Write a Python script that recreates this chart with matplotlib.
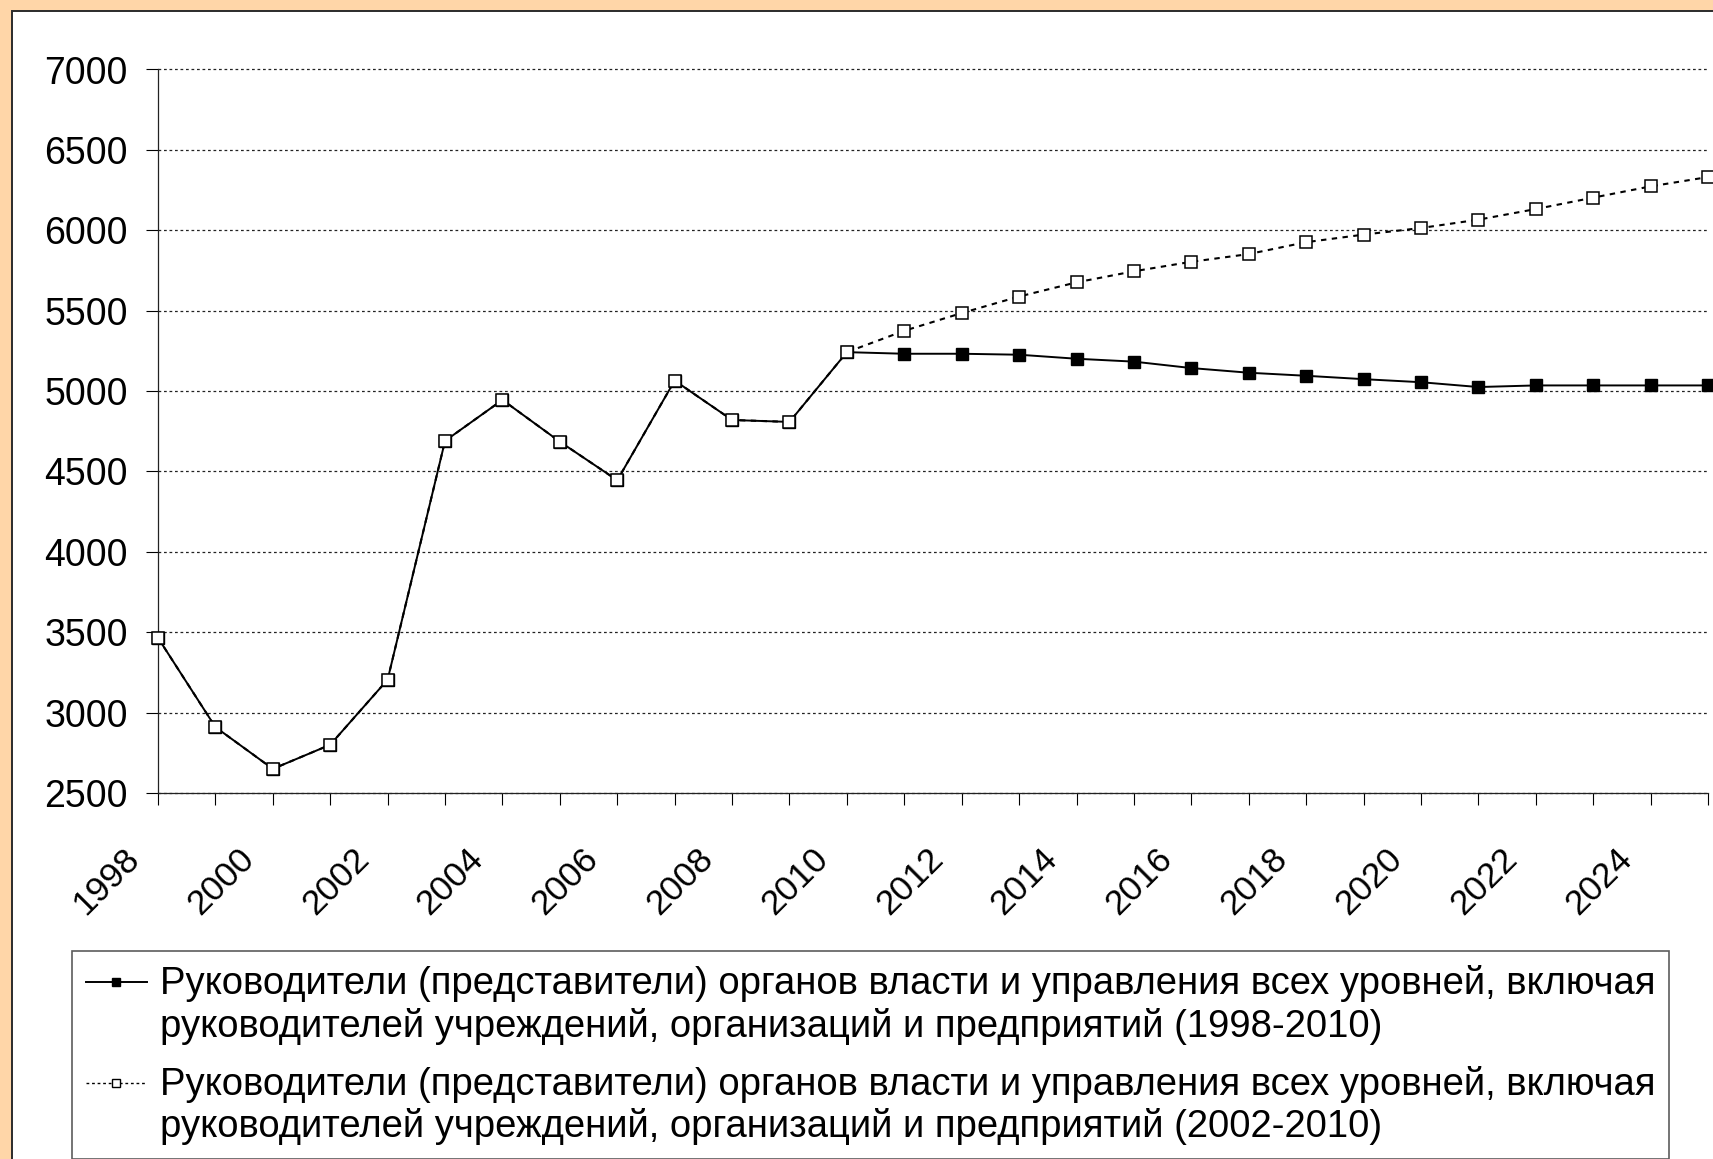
import matplotlib
matplotlib.use('Agg')
import matplotlib.pyplot as plt
import matplotlib.transforms as mtransforms
import numpy as np
from matplotlib.lines import Line2D
from matplotlib.patches import Rectangle
from matplotlib.legend_handler import HandlerLine2D

plt.rcParams['font.family'] = ['Liberation Sans', 'DejaVu Sans']

# data
years = list(range(1998, 2026))
leaders_1998 = [3465, 2910, 2650, 2800, 3205, 4690, 4945, 4685, 4445, 5065,
                4820, 4808, 5242, 5232, 5232, 5226, 5201, 5183, 5143, 5114,
                5095, 5074, 5055, 5025, 5035, 5035, 5035, 5035]
leaders_2002 = [3465, 2910, 2650, 2800, 3205, 4690, 4945, 4685, 4445, 5065,
                4820, 4808, 5242, 5375, 5485, 5588, 5676, 5745, 5804, 5852,
                5926, 5973, 6014, 6066, 6132, 6203, 6273, 6331]
y_ticks = [2500, 3000, 3500, 4000, 4500, 5000, 5500, 6000, 6500, 7000]
label_1998 = ('Руководители (представители) органов власти и управления всех уровней, включая\n'
              'руководителей учреждений, организаций и предприятий (1998-2010)')
label_2002 = ('Руководители (представители) органов власти и управления всех уровней, включая\n'
              'руководителей учреждений, организаций и предприятий (2002-2010)')

W, H = 1713, 1159
fig = plt.figure(figsize=(W / 100, H / 100), dpi=100)
fig.patch.set_facecolor('#FFD6A8')

# white chart panel, runs off the right and bottom edges
panel = Rectangle((12 / W, -0.1), 1.2, 1 - 10.5 / H + 0.1, transform=fig.transFigure,
                  facecolor='white', edgecolor='#2b2b2b', linewidth=1.4, zorder=-5)
fig.patches.append(panel)

ax = fig.add_axes([158 / W, 1 - 793 / H, (1708 - 158) / W, (793 - 69.5) / H])
ax.set_facecolor('none')
ax.set_zorder(2)

ax.plot(years, leaders_1998, color='black', linewidth=1.4, marker='s', markersize=8,
        markerfacecolor='black', markeredgecolor='black', clip_on=False, zorder=3)
ax.plot(years, leaders_2002, color='black', linewidth=1.5, linestyle=(0, (2.6, 2.6)), marker='s',
        markersize=8, markerfacecolor='white', markeredgecolor='black', markeredgewidth=1.1,
        clip_on=False, zorder=4)

ax.set_xlim(1998, 2025)
ax.set_ylim(2500, 7000)
ax.set_yticks(y_ticks)
ax.set_xticks(years)
ax.set_xticklabels([str(y) if y % 2 == 0 else '' for y in years], rotation=45,
                   rotation_mode='anchor', ha='right', va='center')
ax.tick_params(axis='y', direction='out', length=8.6, width=0.8, pad=13, labelsize=27)
ax.tick_params(axis='x', direction='out', length=8.6, width=0.8, pad=35, labelsize=25.5)
shift = mtransforms.ScaledTranslation(-24 / 100, 0, fig.dpi_scale_trans)
for lbl in ax.get_xticklabels():
    lbl.set_transform(lbl.get_transform() + shift)

ax.grid(axis='y', color='#222222', linestyle=(0, (2.2, 2.2)), linewidth=0.9)
for gl in ax.get_ygridlines():
    gl.set_clip_on(False)
ax.set_axisbelow(True)
for side in ['top', 'right']:
    ax.spines[side].set_visible(False)
for side in ['left', 'bottom']:
    ax.spines[side].set_linewidth(0.9)
    ax.spines[side].set_color('#222222')


class FirstLineHandler(HandlerLine2D):
    '''puts the legend key on the first line of a two-line label'''
    def create_artists(self, legend, orig_handle, xdescent, ydescent, width, height,
                       fontsize, trans):
        arts = super().create_artists(legend, orig_handle, xdescent, ydescent, width,
                                      height, fontsize, trans)
        for a in arts:
            a.set_ydata(np.asarray(a.get_ydata(), dtype=float) + 0.6 * fontsize)
        return arts


h1 = Line2D([], [], color='black', linewidth=1.4, marker='s', markersize=6,
            markerfacecolor='black')
h2 = Line2D([], [], color='black', linewidth=1.0, linestyle=(0, (2, 2)), marker='s',
            markersize=6, markerfacecolor='white', markeredgewidth=1.0)
leg = fig.legend([h1, h2], [label_1998, label_2002], loc='upper left',
                 bbox_to_anchor=(72 / W, 1 - 951 / H), borderaxespad=0, fontsize=27.5,
                 frameon=True, fancybox=False, edgecolor='#333333', handlelength=1.6,
                 handletextpad=0.35, borderpad=0.36, labelspacing=0.55,
                 handler_map={Line2D: FirstLineHandler(numpoints=1)})
leg.get_frame().set_linewidth(1.2)

fig.savefig('out.png', dpi=100, facecolor=fig.get_facecolor())
